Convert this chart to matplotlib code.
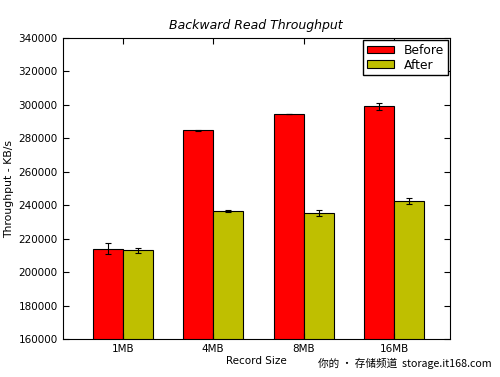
import matplotlib
matplotlib.use("Agg")

import numpy as np
import matplotlib.pyplot as plt

sizes = ["1MB", "4MB", "8MB", "16MB"]
before = [214000, 284800, 294400, 299000]
before_err = [3300, 300, 200, 2300]
after = [213000, 236600, 235300, 242400]
after_err = [1200, 800, 2000, 1700]

fig = plt.figure(figsize=(5, 3.77), dpi=100)
ax = fig.add_axes([0.125, 0.1, 0.775, 0.8])

ind = np.arange(len(sizes))
width = 0.33
err_kw = dict(ecolor="black", capsize=2.5, elinewidth=0.8, capthick=0.8)

ax.bar(ind - width / 2, before, width, yerr=before_err, color="#ff0000",
       edgecolor="black", linewidth=0.8, label="Before", error_kw=err_kw)
ax.bar(ind + width / 2, after, width, yerr=after_err, color="#bfbf00",
       edgecolor="black", linewidth=0.8, label="After", error_kw=err_kw)

ax.set_xlim(-0.665, 3.617)
ax.set_ylim(160000, 340000)
ax.set_yticks(np.arange(160000, 340001, 20000))
ax.set_xticks(ind)
ax.set_xticklabels(sizes)
ax.tick_params(direction="in", top=True, right=True, labelsize=7.5, length=4)

ax.set_title("Backward Read Throughput", fontsize=9, style="italic")
ax.set_xlabel("Record Size", fontsize=7.5, labelpad=1)
ax.set_ylabel("Throughput - KB/s", fontsize=7.8, labelpad=3)

leg = ax.legend(loc="upper right", fontsize=8.8, fancybox=False,
                borderaxespad=0.2, handlelength=2.2, handleheight=0.6,
                labelspacing=0.15, borderpad=0.3, framealpha=1)
leg.get_frame().set_edgecolor("black")

fig.text(0.984, 0.02, "你的 • 存储频道  storage.it168.com", ha="right",
         va="bottom", fontsize=7.7, family=["Noto Sans CJK SC", "DejaVu Sans"])

fig.savefig("out.png", dpi=100)
plt.close(fig)
